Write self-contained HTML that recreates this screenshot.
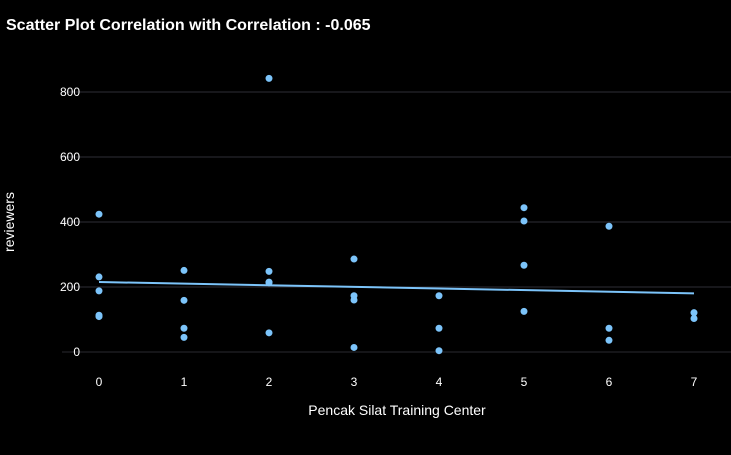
<!DOCTYPE html>
<html><head><meta charset="utf-8"><style>
body{margin:0;background:#000;width:731px;height:450px;overflow:hidden;font-family:"Liberation Sans",Arial,sans-serif}
</style></head><body>
<svg id="chart" width="731" height="450" xmlns="http://www.w3.org/2000/svg">
<text x="6" y="30" fill="#fff" font-size="16" font-weight="bold">Scatter Plot Correlation with Correlation : -0.065</text>
<text transform="translate(14,222) rotate(-90)" text-anchor="middle" fill="#fff" font-size="14">reviewers</text>
<text x="397" y="415" text-anchor="middle" fill="#fff" font-size="14">Pencak Silat Training Center</text>
<g id="grid"></g><g id="ylabels"></g><g id="xlabels"></g><g id="trend"></g><g id="points"></g>
</svg>
<script>
const xCats=[0,1,2,3,4,5,6,7];
const yTicks=[0,200,400,600,800];
const pointX=[0,0,0,0,0,1,1,1,1,2,2,2,2,2,3,3,3,3,4,4,4,5,5,5,5,6,6,6,7,7];
const pointY=[424,231,188,113,109,251,159,73,45,842,248,215,213,59,286,173,160,14,173,73,4,444,403,267,125,387,73,36,121,103];
const NS="http://www.w3.org/2000/svg";
function sx(v){return 99+v*85;}
function sy(v){return 352-v*0.325;}
function mk(t,a,p){const e=document.createElementNS(NS,t);for(const k in a)e.setAttribute(k,a[k]);p.appendChild(e);return e;}
const grid=document.getElementById('grid'),yl=document.getElementById('ylabels'),xl=document.getElementById('xlabels');
yTicks.forEach(t=>{
 const l=mk('line',{x1:62,x2:731,y1:sy(t),y2:sy(t),stroke:t===0?'#2a2a30':'#2e2e36','stroke-width':1},grid);
 
 
 const tx=mk('text',{x:80,y:sy(t)+4,'text-anchor':'end',fill:'#fff','font-size':12},yl);
 tx.textContent=t;
 
 
});
xCats.forEach(c=>{
 const tx=mk('text',{x:sx(c),y:386,'text-anchor':'middle',fill:'#fff','font-size':12},xl);
 tx.textContent=c;
 
 
});
const n=pointX.length;let mx=0,my=0;for(let i=0;i<n;i++){mx+=pointX[i];my+=pointY[i];}mx/=n;my/=n;
let sxy=0,sxx=0;for(let i=0;i<n;i++){sxy+=(pointX[i]-mx)*(pointY[i]-my);sxx+=(pointX[i]-mx)**2;}
const b=sxy/sxx,a=my-b*mx;
const tl=mk('line',{x1:sx(0),y1:sy(a),x2:sx(7),y2:sy(a+7*b),stroke:'#7cc4fa','stroke-width':2},document.getElementById('trend'));


const pg=document.getElementById('points');
for(let i=0;i<n;i++){
 const c=mk('circle',{cx:sx(pointX[i]),cy:sy(pointY[i]),r:3.5,fill:'#7cc4fa'},pg);
 
 
}
</script>
</body></html>
